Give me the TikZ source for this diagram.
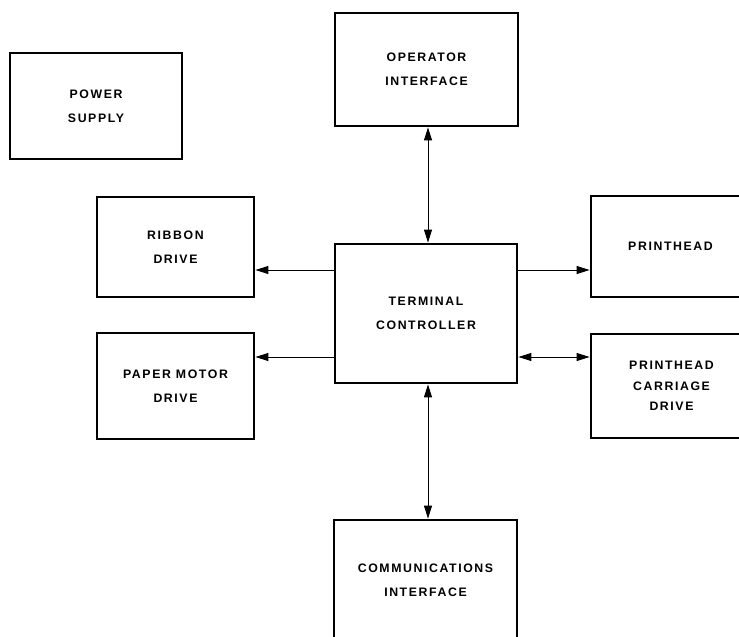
\documentclass[tikz,border=0pt]{standalone}
\usepackage{fontspec}
\setmainfont[LetterSpace=13]{Liberation Sans}
\usetikzlibrary{arrows.meta}
\begin{document}
\begin{tikzpicture}[x=1pt,y=-1pt,
  box/.style={draw, line width=2.8pt, inner sep=0pt, align=center,
    font=\fontsize{12.3}{24}\selectfont\bfseries},
  conn/.style={line width=0.9pt}]
\useasboundingbox (0,0) rectangle (739,637);
\clip (0,0) rectangle (739,637);
\node[box, minimum width=172pt, minimum height=106pt] (P) at (96,106) {POWER\\SUPPLY};
\node[box, minimum width=183pt, minimum height=113pt] (O) at (426.5,69.5) {OPERATOR\\INTERFACE};
\node[box, minimum width=182pt, minimum height=139pt] (T) at (426,313.5) {TERMINAL\\CONTROLLER};
\node[box, minimum width=157pt, minimum height=100pt] (R) at (175.5,247) {RIBBON\\DRIVE};
\node[box, minimum width=157pt, minimum height=106pt] (M) at (175.5,386) {PAPER MOTOR\\DRIVE};
\node[box, minimum width=159pt, minimum height=101pt] (H) at (670.5,246.5) {PRINTHEAD};
\node[box, minimum width=161pt, minimum height=104pt,
  font=\fontsize{12.3}{20.5}\selectfont\bfseries] (C) at (671.5,386) {PRINTHEAD\\CARRIAGE\\DRIVE};
\node[box, minimum width=183pt, minimum height=120pt] (I) at (425.5,580) {COMMUNICATIONS\\INTERFACE};
\coordinate (xa) at (428,0);
\coordinate (ya) at (0,270);
\coordinate (yb) at (0,357);
\draw[conn, {Triangle[length=13pt,width=8pt]}-{Triangle[length=13pt,width=8pt]}] (O.south -| xa) -- (T.north -| xa);
\draw[conn, {Triangle[length=13pt,width=8pt]}-{Triangle[length=13pt,width=8pt]}] (T.south -| xa) -- (I.north -| xa);
\draw[conn, -{Triangle[length=13pt,width=8pt]}] (T.west |- ya) -- (R.east |- ya);
\draw[conn, -{Triangle[length=13pt,width=8pt]}] (T.west |- yb) -- (M.east |- yb);
\draw[conn, -{Triangle[length=13pt,width=8pt]}] (T.east |- ya) -- (H.west |- ya);
\draw[conn, {Triangle[length=13pt,width=8pt]}-{Triangle[length=13pt,width=8pt]}] (T.east |- yb) -- (C.west |- yb);
\end{tikzpicture}
\end{document}
